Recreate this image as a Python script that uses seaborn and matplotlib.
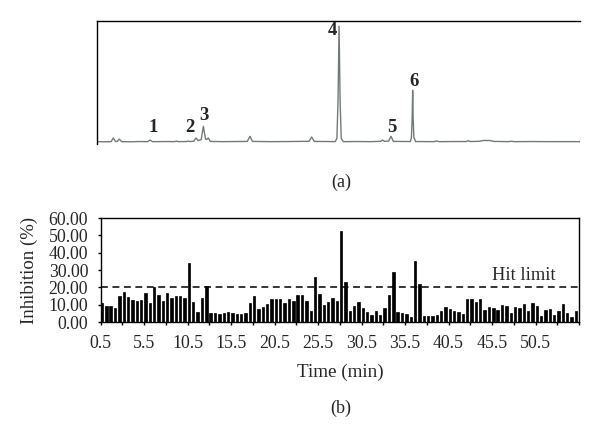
import numpy as np
import pandas as pd
import matplotlib
matplotlib.use("Agg")
import matplotlib.pyplot as plt
import seaborn as sns

# --- DATA ---
# chromatogram trace (a): retention time (min) and relative signal
trace_time = [0.1, 1.0, 1.7, 1.95, 2.2, 2.4, 2.64, 2.9, 4.0, 5.0, 5.9, 6.17, 6.45, 8.0,
              9.0, 9.2, 9.4, 10.4, 10.57, 10.75, 11.2, 11.45, 11.7, 12.05, 12.3, 12.55,
              12.7, 12.87, 13.1, 14.5, 16.0, 17.35, 17.66, 17.95, 20.0, 22.0, 24.45,
              24.75, 25.05, 26.5, 27.45, 27.65, 27.78, 27.9, 28.02, 28.15, 28.4, 30.0,
              31.5, 32.7, 32.9, 33.1, 33.6, 33.87, 34.15, 35.9, 36.1, 36.22, 36.3, 36.36,
              36.42, 36.5, 36.7, 38.8, 39.1, 39.4, 41.0, 42.5, 42.75, 43.0, 44.0, 44.5,
              45.2, 45.7, 47.4, 47.7, 48.0, 50.0, 52.0, 55.6]
trace_signal = [0.3, 0.2, 0.3, 3.5, 0.4, 0.5, 2.5, 0.3, 0.2, 0.4, 0.3, 1.7, 0.3, 0.4,
                0.3, 0.8, 0.3, 0.4, 0.8, 0.4, 0.6, 3.5, 1.2, 2.0, 13.5, 2.5,
                2.2, 3.5, 0.5, 0.3, 0.4, 0.5, 4.9, 0.5, 0.3, 0.4, 0.6,
                4.3, 0.5, 0.4, 0.3, 3.0, 35.0, 100.0, 35.0, 3.0, 0.3, 0.4,
                0.3, 0.6, 1.7, 0.6, 0.8, 4.9, 0.5, 0.4, 0.4, 4.0, 20.0, 44.7,
                20.0, 4.0, 0.4, 0.3, 0.9, 0.3, 0.4, 0.4, 1.1, 0.4, 0.6, 1.3,
                1.3, 0.5, 0.3, 0.7, 0.3, 0.4, 0.3, 0.3]
peak_labels = ["1", "2", "3", "4", "5", "6"]

# inhibition per fraction (b): fraction times 0.5 ... 55.0 min
fraction_time = [f"{0.5 + 0.5 * i:.1f}" for i in range(110)]
inhibition = [10.7, 9.5, 9.2, 8.0, 14.8, 17.3, 14.4, 12.5, 12.3, 12.5,
              16.8, 10.9, 20.1, 15.6, 12.3, 16.8, 14.1, 14.9, 15.2, 14.1,
              34.1, 11.3, 5.5, 13.8, 20.8, 5.2, 5.0, 4.8, 5.4, 5.7,
              5.2, 4.4, 4.6, 5.0, 10.9, 14.8, 7.3, 8.6, 10.5, 13.2,
              13.2, 13.2, 10.9, 13.2, 12.2, 15.5, 15.5, 11.9, 6.1, 25.8,
              16.1, 9.6, 11.5, 13.8, 12.4, 52.6, 23.1, 6.1, 9.2, 11.5,
              8.0, 5.7, 4.2, 6.3, 4.2, 7.8, 15.5, 28.9, 5.9, 5.2,
              4.6, 3.1, 35.4, 22.2, 3.2, 3.2, 3.5, 4.2, 6.1, 8.6,
              7.6, 6.1, 5.7, 4.8, 13.4, 13.0, 11.5, 13.4, 6.7, 8.6,
              8.2, 6.7, 9.9, 9.0, 5.2, 8.6, 7.8, 10.5, 6.5, 10.9,
              9.4, 3.2, 6.7, 7.5, 4.2, 6.5, 10.3, 5.2, 2.7, 6.1]
hit_limit = 20.0
x_tick_labels = ["0.5", "5.5", "10.5", "15.5", "20.5", "25.5",
                 "30.5", "35.5", "40.5", "45.5", "50.5"]
y_ticks = [0, 10, 20, 30, 40, 50, 60]

df_trace = pd.DataFrame({"time": trace_time, "signal": trace_signal})
df_bars = pd.DataFrame({"fraction": fraction_time, "inhibition": inhibition})

# --- STYLE ---
sns.set_theme(style="white")
plt.rcParams["font.family"] = ["Liberation Serif", "DejaVu Serif"]
plt.rcParams["font.size"] = 12.5

fig = plt.figure(figsize=(6.0, 4.41), dpi=100)

# --- (a) CHROMATOGRAM ---
ax1 = fig.add_axes([0.1617, 0.6746, 0.805, 0.2785])
sns.lineplot(data=df_trace, x="time", y="signal", ax=ax1, color="#737a75",
             lw=1.0, estimator=None, sort=False)
ax1.set_xlim(0.075, 55.6)
ax1.set_ylim(-1.3, 104.8)
ax1.set_xticks([])
ax1.set_yticks([])
ax1.set_xlabel("")
ax1.set_ylabel("")
for side in ["right", "bottom"]:
    ax1.spines[side].set_visible(False)
for side in ["left", "top"]:
    ax1.spines[side].set_color("black")
    ax1.spines[side].set_linewidth(1.0)

label_pos = [(6.55, 12.7), (10.76, 12.7), (12.37, 23.3),
             (27.12, 96.2), (33.95, 12.7), (36.55, 52.1)]
for lab, (tx, ty) in zip(peak_labels, label_pos):
    ax1.text(tx, ty, lab, ha="center", va="center", fontweight="bold",
             fontsize=13.5)

fig.text(0.568, 1 - 182 / 441, "(a)", ha="center", va="center", fontsize=13)

# --- (b) INHIBITION BARS ---
ax2 = fig.add_axes([0.1678, 0.2698, 0.7972, 0.2358])
sns.barplot(data=df_bars, x="fraction", y="inhibition", ax=ax2,
            color="black", width=0.55, saturation=1,
            edgecolor="black", linewidth=0.5)
ax2.axhline(hit_limit, color="black", lw=1.1, ls=(0, (4.5, 3)))
ax2.text(97.1, 27.1, "Hit limit", ha="center", va="center", fontsize=13.3)

ax2.set_xlim(-0.3, 109.7)
ax2.set_ylim(0, 60)
ax2.set_xticks(np.arange(0, 111, 5) - 0.3)
tick_text = []
for k in range(23):
    tick_text.append(x_tick_labels[k // 2] if k % 2 == 0 and k // 2 < len(x_tick_labels) else "")
ax2.set_xticklabels(tick_text)
ax2.set_yticks(y_ticks)
ax2.set_yticklabels([f"{v:.2f}" for v in y_ticks])
ax2.tick_params(axis="both", direction="out", length=2.5, width=1, color="black",
                labelsize=12.8, pad=6.5, bottom=True, left=True)
for side in ax2.spines:
    ax2.spines[side].set_color("black")
    ax2.spines[side].set_linewidth(1.0)

ax2.set_xlabel("Time (min)", fontsize=13.8)
ax2.set_ylabel("Inhibition (%)", fontsize=13.5)
ax2.xaxis.set_label_coords(0.5, -0.40)
ax2.yaxis.set_label_coords(-0.131, 0.5)

fig.text(0.568, 1 - 408 / 441, "(b)", ha="center", va="center", fontsize=13)

fig.savefig("out.png", dpi=100, facecolor="white")
